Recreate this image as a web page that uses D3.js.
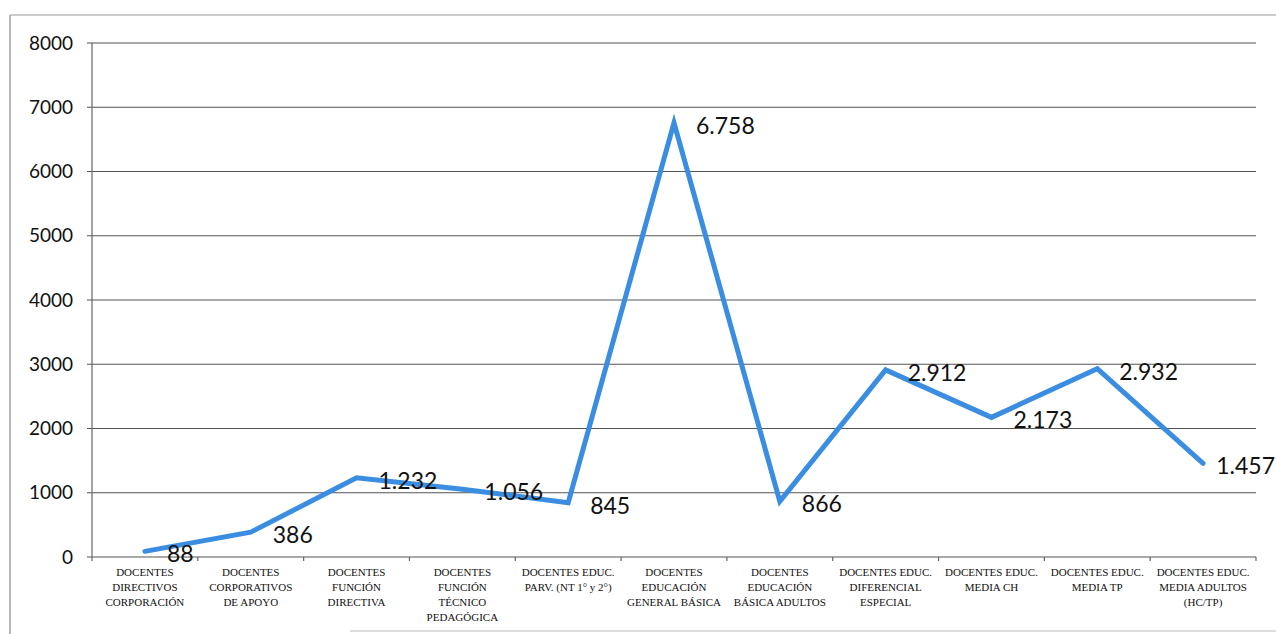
<!DOCTYPE html>
<html><head><meta charset="utf-8">
<script src="https://cdn.jsdelivr.net/npm/d3@7/dist/d3.min.js"></script>
<style>body{margin:0;background:#fff}svg{display:block}</style>
</head><body>
<svg id="c" width="1276" height="634"></svg>
<script>
const categories = [
  ["DOCENTES","DIRECTIVOS","CORPORACIÓN"],
  ["DOCENTES","CORPORATIVOS","DE APOYO"],
  ["DOCENTES","FUNCIÓN","DIRECTIVA"],
  ["DOCENTES","FUNCIÓN","TÉCNICO","PEDAGÓGICA"],
  ["DOCENTES EDUC.","PARV. (NT 1° y 2°)"],
  ["DOCENTES","EDUCACIÓN","GENERAL BÁSICA"],
  ["DOCENTES","EDUCACIÓN","BÁSICA ADULTOS"],
  ["DOCENTES EDUC.","DIFERENCIAL","ESPECIAL"],
  ["DOCENTES EDUC.","MEDIA CH"],
  ["DOCENTES EDUC.","MEDIA TP"],
  ["DOCENTES EDUC.","MEDIA ADULTOS","(HC/TP)"]
];
const values = [88, 386, 1232, 1056, 845, 6758, 866, 2912, 2173, 2932, 1457];
const valueLabels = ["88","386","1.232","1.056","845","6.758","866","2.912","2.173","2.932","1.457"];
const yTicks = [0,1000,2000,3000,4000,5000,6000,7000,8000];

const svg = d3.select("#c");
const L = 92, R = 1256, T = 43, B = 557;
const idx = d3.range(categories.length);
const x = d3.scaleBand().domain(idx).range([L, R]);
const y = d3.scaleLinear().domain([0, 8000]).range([B, T]);

// outer frame
svg.append("line").attr("x1",10).attr("x2",10).attr("y1",15).attr("y2",634).attr("stroke","#888").attr("stroke-width",1.2);
svg.append("line").attr("x1",10).attr("x2",1276).attr("y1",15).attr("y2",15).attr("stroke","#999").attr("stroke-width",1.2);
svg.append("line").attr("x1",350).attr("x2",1276).attr("y1",631).attr("y2",631).attr("stroke","#bbb").attr("stroke-width",1.2);

// grid
svg.append("g").selectAll("line").data(yTicks).join("line")
  .attr("x1", L - 5).attr("x2", R)
  .attr("y1", d => y(d)).attr("y2", d => y(d))
  .attr("stroke", "#555").attr("stroke-width", 1.2);

// y axis line
svg.append("line").attr("x1",L).attr("x2",L).attr("y1",T).attr("y2",B).attr("stroke","#666").attr("stroke-width",1.2);

// y tick labels
svg.append("g").selectAll("text").data(yTicks).join("text")
  .attr("x", 73).attr("y", d => y(d)).attr("dy","0.35em")
  .attr("text-anchor","end")
  .style("font-family","Lato, 'Open Sans', sans-serif").style("font-size","19px").attr("fill","#111")
  .text(d => d);

// x tick marks at boundaries
const bounds = idx.map(i => x(i)).concat([R]);
svg.append("g").selectAll("line").data(bounds).join("line")
  .attr("x1", d => d).attr("x2", d => d).attr("y1", B).attr("y2", B + 4)
  .attr("stroke","#666").attr("stroke-width",1.2);

// category labels
const cg = svg.append("g").style("font-family","'Liberation Serif', serif").style("font-size","11px").attr("fill","#111");
categories.forEach((lines, i) => {
  const t = cg.append("text").attr("text-anchor","middle")
    .attr("x", x(i) + x.bandwidth()/2).attr("y", 576);
  lines.forEach((ln, j) => {
    t.append("tspan").attr("x", x(i) + x.bandwidth()/2).attr("dy", j === 0 ? 0 : 15).text(ln);
  });
});

// line
const line = d3.line().x((d,i) => x(i) + x.bandwidth()/2).y(d => y(d));
svg.append("path").datum(values).attr("d", line)
  .attr("fill","none").attr("stroke","#3a8de0").attr("stroke-width",5)
  .attr("stroke-linejoin","miter").attr("stroke-linecap","round");

// value labels
svg.append("g").selectAll("text").data(values).join("text")
  .attr("y", d => y(d) + 3).attr("dy","0.35em")
  .style("font-family","Lato, 'Open Sans', sans-serif").style("font-size","23px").attr("fill","#111")
  .text((d,i) => valueLabels[i])
  .attr("x", function(d,i) {
    const px = x(i) + x.bandwidth()/2 + 22;
    const w = this.getComputedTextLength();
    return Math.min(px, 1275 - w);
  });
</script>
</body></html>
